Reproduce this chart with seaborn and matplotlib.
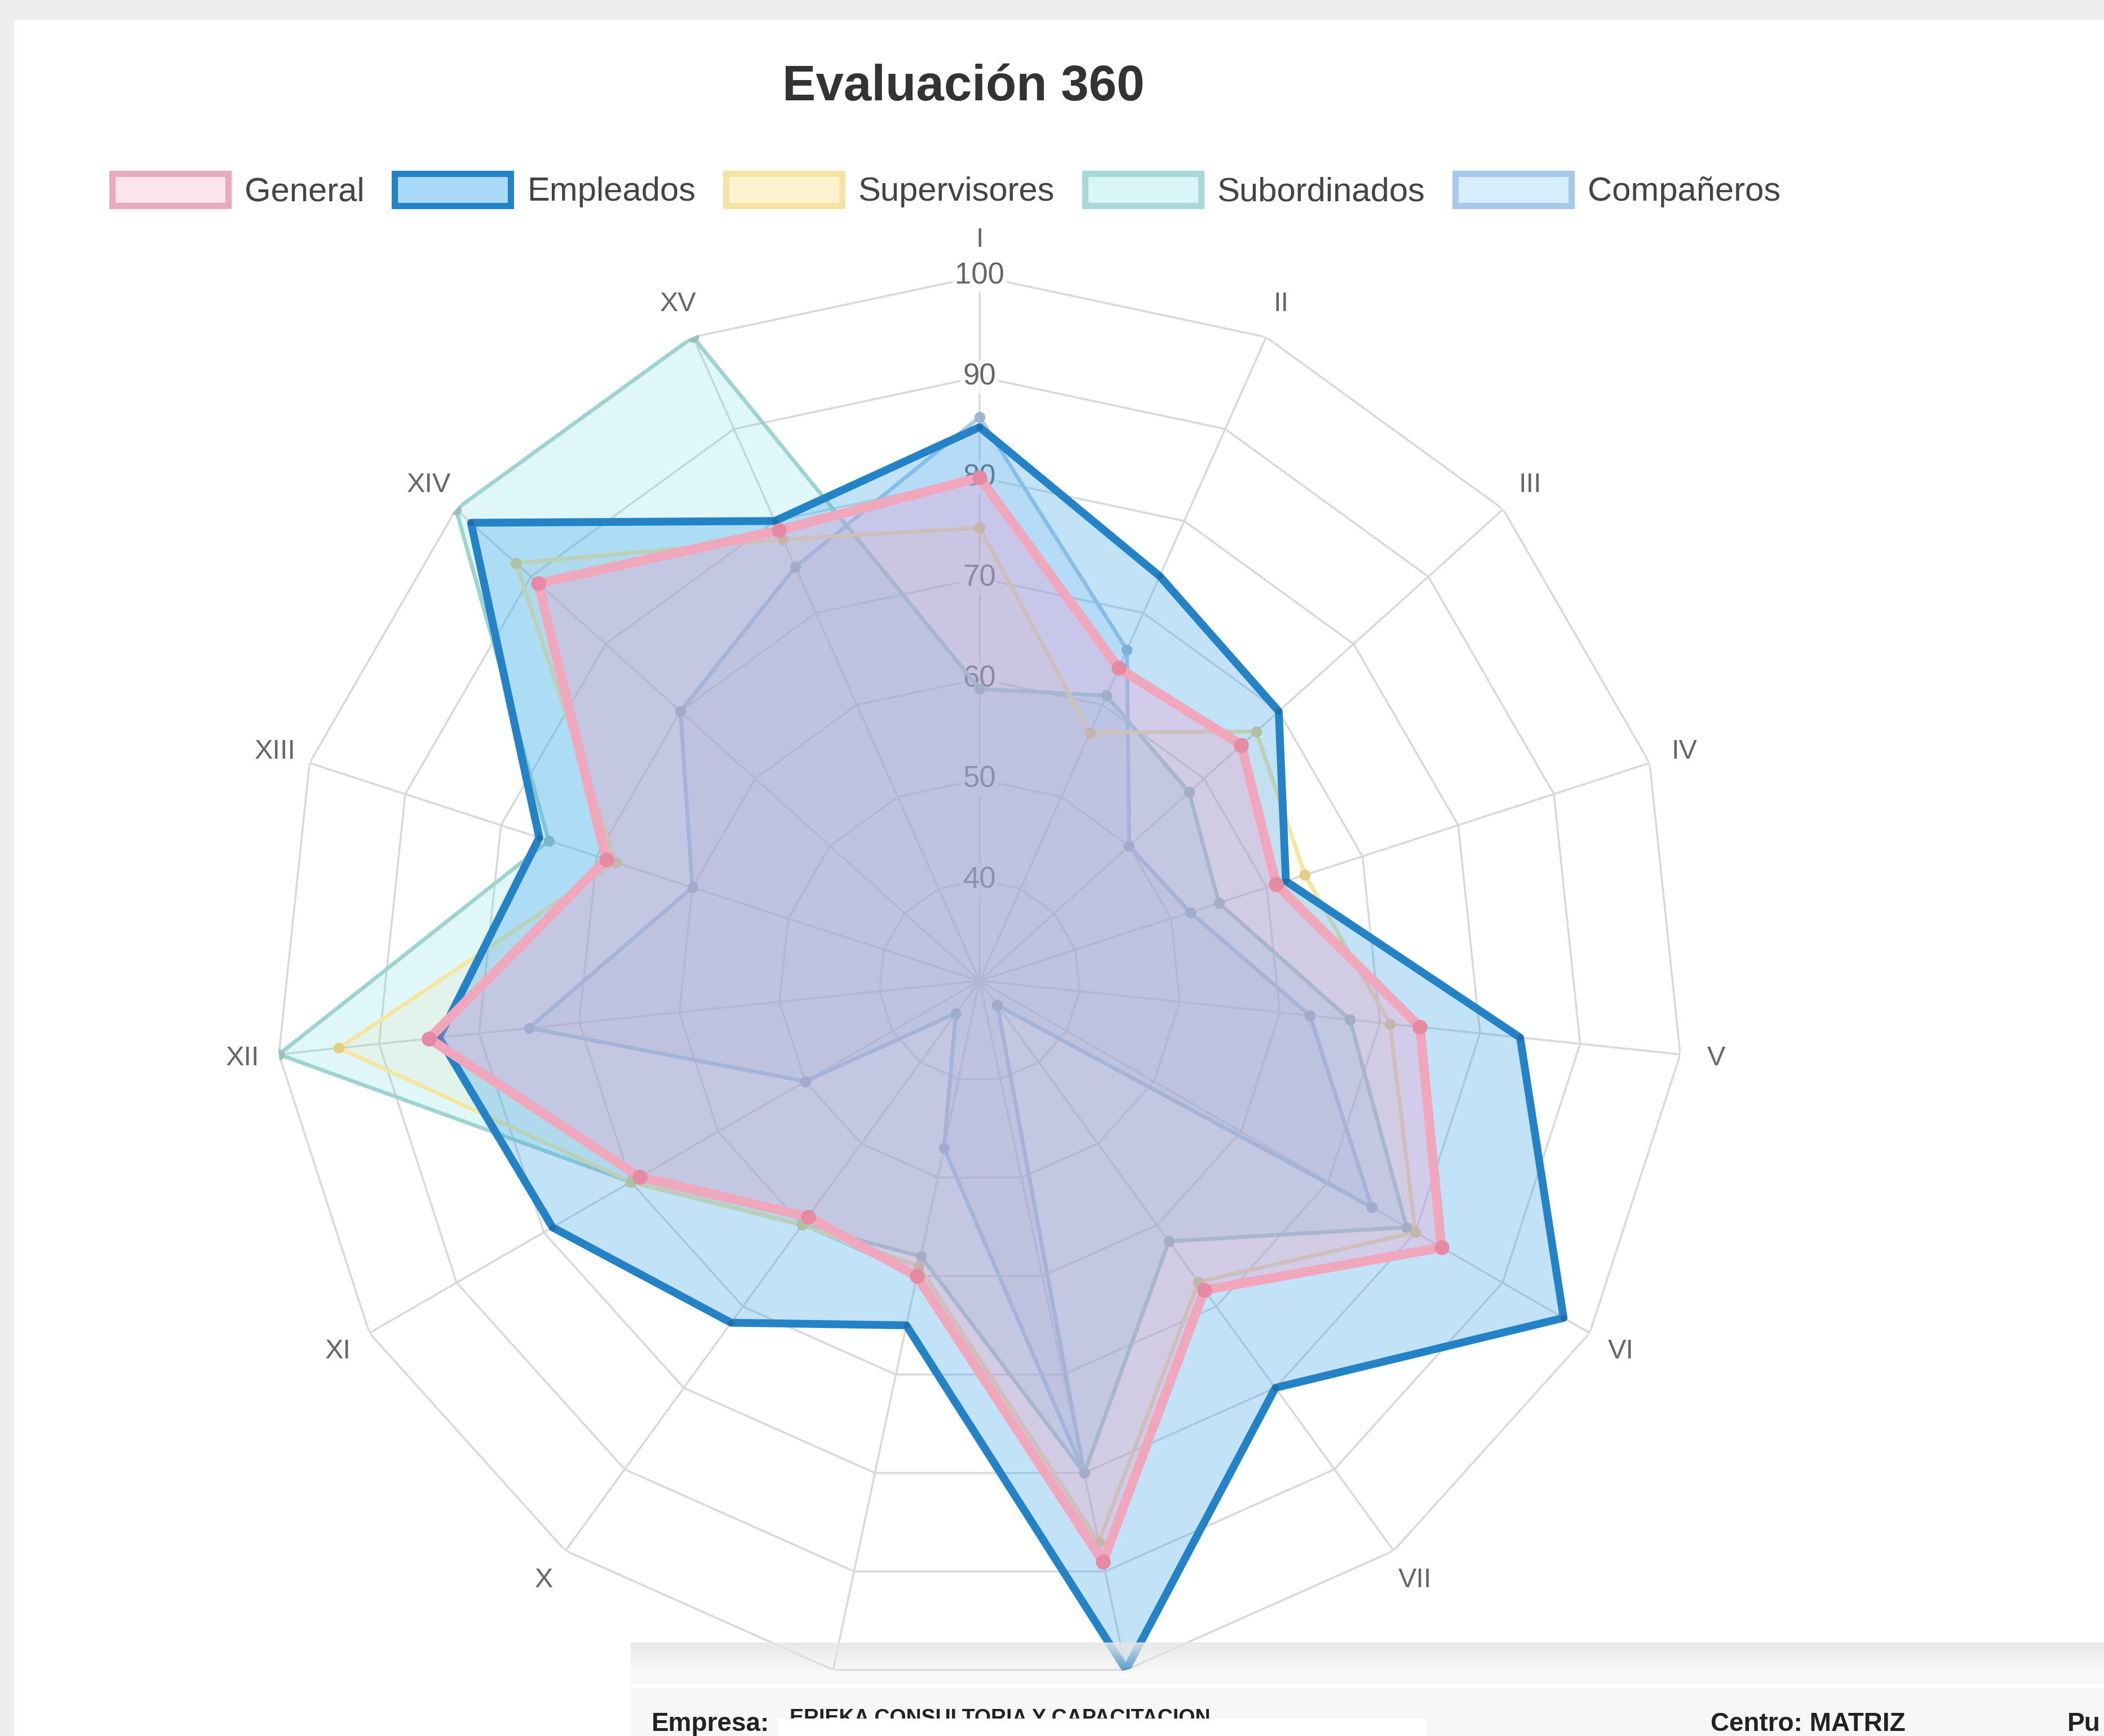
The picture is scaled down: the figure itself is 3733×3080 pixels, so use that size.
import numpy as np
import matplotlib
matplotlib.use("Agg")
import matplotlib.pyplot as plt
import seaborn as sns
from matplotlib.patches import Rectangle, Patch

sns.set_theme(style="white")
plt.rcParams['font.family'] = ['Liberation Sans', 'DejaVu Sans']

# data
labels = ['I', 'II', 'III', 'IV', 'V', 'VI', 'VII', 'VIII', 'IX', 'X',
          'XI', 'XII', 'XIII', 'XIV', 'XV']
general = [80, 64, 65, 61, 74, 83, 68, 89, 60, 59, 69, 85, 69, 89, 79]
empleados = [85, 74, 70, 62, 84, 97, 80, 100, 65, 72, 79, 84, 76, 98, 80]
supervisores = [75, 57, 67, 64, 71, 80, 67, 87, 59, 60, 70, 94, 68, 92, 78]
subordinados = [59, 61, 58, 55, 67, 79, 62, 80, 58, 60, 70, 100, 75, 100, 100]
companeros = [86, 66, 50, 52, 63, 75, 33, 80, 47, 34, 50, 75, 60, 70, 75]
ticks = [40, 50, 60, 70, 80, 90, 100]
r_min, r_max = 30, 100

W, H = 3733, 3080
fig = plt.figure(figsize=(W / 100, H / 100), dpi=100)
fig.patch.set_facecolor('#eeeeee')
bg = fig.add_axes([25 / W, 0, 1 - 25 / W, 1 - 36 / H])
bg.set_facecolor('white')
bg.set_xticks([])
bg.set_yticks([])
for s in bg.spines.values():
    s.set_visible(False)
bg.set_zorder(-5)

cx, cy, R = 1738, 1740, 1250
ax = fig.add_axes([(cx - R) / W, 1 - (cy + R) / H, 2 * R / W, 2 * R / H], projection='polar')
ax.set_theta_zero_location('N')
ax.set_theta_direction(-1)
ax.set_ylim(r_min, r_max)
ax.grid(False)
ax.set_xticks([])
ax.set_yticks([])
ax.spines['polar'].set_visible(False)
ax.patch.set_alpha(0)

n = len(labels)
theta = np.linspace(0, 2 * np.pi, n, endpoint=False)
theta_c = np.append(theta, theta[0])

grid_col = '#d9d9d9'
for t in ticks:
    ax.plot(theta_c, [t] * (n + 1), color=grid_col, lw=2.6, zorder=1)
for th in theta:
    ax.plot([th, th], [r_min, r_max], color=grid_col, lw=2.6, zorder=1)
for t in ticks:
    ax.text(0, t, str(t), ha='center', va='center', fontsize=38, color='#666666', zorder=1.5,
            bbox=dict(boxstyle='square,pad=0.08', fc='white', ec='none', alpha=0.75))
for th, lab in zip(theta, labels):
    ax.text(th, 103.6, lab, ha='center', va='center', fontsize=35, color='#666666')

series = [
    ('Compañeros', companeros, (130/255, 180/255, 230/255, 0.14), '#a9cbe8', 5, '#9fb6cc', 13),
    ('Subordinados', subordinados, (100/255, 215/255, 225/255, 0.2), '#9fd3cf', 5, '#9cc0bd', 13),
    ('Supervisores', supervisores, (255/255, 206/255, 86/255, 0.08), '#f6e59e', 5, '#e3cf82', 13),
    ('Empleados', empleados, (54/255, 162/255, 235/255, 0.3), '#2383c6', 10, '#1f6ea8', 7),
    ('General', general, (255/255, 150/255, 200/255, 0.28), '#f1a7bb', 12, '#e58aa2', 18),
]
legend_face = {'General': '#fde3ea', 'Empleados': '#a9dbf6', 'Supervisores': '#fdf3cf',
               'Subordinados': '#d8f5f7', 'Compañeros': '#d6eefb'}
legend_edge = {'General': '#eaaabd', 'Empleados': '#2383c6', 'Supervisores': '#f3e4a5',
               'Subordinados': '#a8d8d8', 'Compañeros': '#a6c8ea'}

z = 2
for name, vals, fill, edge, lw, mcol, ms in series:
    v = np.append(vals, vals[0])
    ax.fill(theta_c, v, color=fill, zorder=z)
    sns.lineplot(x=theta_c, y=v, sort=False, estimator=None, ax=ax, color=edge, lw=lw,
                 zorder=z + 0.5, legend=False)
    ax.plot(theta, vals, 'o', color=mcol, ms=ms, mec=mcol, zorder=z + 0.6)
    z += 1
ax.set_xlabel('')
ax.set_ylabel('')
ax.set_ylim(r_min, r_max)

order = ['General', 'Empleados', 'Supervisores', 'Subordinados', 'Compañeros']
handles = [Patch(facecolor=legend_face[k], edgecolor=legend_edge[k], lw=8) for k in order]
fig.legend(handles, order, loc='center', bbox_to_anchor=(1679 / W, 1 - 338 / H), ncol=5,
           frameon=False, fontsize=43, handlelength=3.45, handleheight=1.1,
           handletextpad=0.48, columnspacing=0.9, labelcolor='#444444')

fig.text(1709 / W, 1 - 155 / H, 'Evaluación 360', ha='center', va='center',
         fontsize=64, fontweight='bold', color='#333333')

# overlapping window at the bottom
x0 = 1119
sh = fig.add_axes([x0 / W, 104 / H, 1 - x0 / W, 62 / H])
grad = np.linspace(0, 1, 50)[:, None] * np.ones((1, 10))
rgba = np.zeros((50, 10, 4))
rgba[..., :3] = 0.9
rgba[..., 3] = 0.15 + 0.75 * (1 - grad)
sh.imshow(rgba, aspect='auto', extent=[0, 1, 0, 1])
sh.axis('off')

pn = fig.add_axes([x0 / W, 0, 1 - x0 / W, 104 / H])
pn.set_xlim(0, 1)
pn.set_ylim(0, 1)
pn.axis('off')
pn.add_patch(Rectangle((0, 0), 1, 1, facecolor='#f7f7f7', edgecolor='none', zorder=0))
pn.add_patch(Rectangle((0, 0.82), 1, 0.06, facecolor='white', edgecolor='none', zorder=0.5))
pn.text(0.014, 0.2, 'Empresa:', fontsize=33, fontweight='bold', color='#222222', va='center')
pn.text(0.108, 0.3, 'ERIEKA CONSULTORIA Y CAPACITACION', fontsize=27, fontweight='bold',
        color='#222222', va='center', zorder=1)
pn.add_patch(Rectangle((0.1, 0), 0.44, 0.3, facecolor='white', edgecolor='none', zorder=2))
pn.text(0.733, 0.2, 'Centro: MATRIZ', fontsize=33, fontweight='bold', color='#222222', va='center')
pn.text(0.975, 0.2, 'Pu', fontsize=33, fontweight='bold', color='#222222', va='center')

fig.savefig('out.png', dpi=100, facecolor=fig.get_facecolor())
